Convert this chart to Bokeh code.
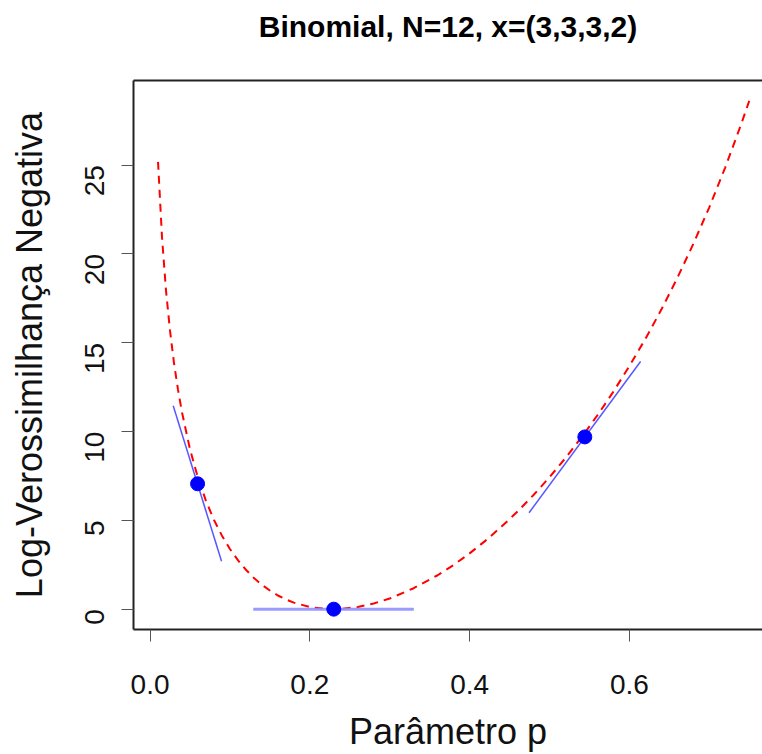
import math
from bokeh.plotting import figure
from bokeh.models import Range1d, LinearAxis, FixedTicker
from bokeh.embed import file_html
from bokeh.resources import INLINE

# Negative log-likelihood curve
p_vals = [0.01, 0.015, 0.02, 0.025, 0.03, 0.035, 0.04, 0.05, 0.06, 0.07, 0.08,
          0.09, 0.10, 0.11, 0.12, 0.13, 0.14, 0.15, 0.16, 0.17, 0.18, 0.20,
          0.22, 0.23, 0.24, 0.26, 0.28, 0.30, 0.33, 0.36, 0.38, 0.40, 0.42,
          0.44, 0.46, 0.48, 0.50, 0.52, 0.54, 0.56, 0.58, 0.60, 0.62, 0.64,
          0.66, 0.68, 0.70, 0.72, 0.74, 0.75]
nll_vals = [25.19, 20.92, 17.94, 15.68, 13.86, 12.36, 11.08, 9.01, 7.40, 6.10, 5.03,
            4.14, 3.39, 2.76, 2.22, 1.76, 1.37, 1.05, 0.77, 0.55, 0.37, 0.12,
            0.01, 0.00, 0.02, 0.12, 0.32, 0.60, 1.18, 1.91, 2.49, 3.14, 3.86,
            4.65, 5.50, 6.43, 7.43, 8.51, 9.67, 10.92, 12.25, 13.69, 15.22, 16.87,
            18.65, 20.57, 22.63, 24.88, 27.32, 28.62]

# Highlighted points
pt_p = [0.0595, 0.230, 0.5442]
pt_nll = [7.06, 0.0, 9.70]

# Tangent segments (start/end)
tan_p0 = [0.0290, 0.4744]
tan_y0 = [11.46, 5.43]
tan_p1 = [0.0895, 0.6140]
tan_y1 = [2.70, 13.95]
flat_p = [0.1292, 0.3302]
flat_y = [0.0, 0.0]

x_ticks = [0.0, 0.2, 0.4, 0.6]
x_tick_labels = ["0.0", "0.2", "0.4", "0.6"]
y_ticks = [0, 5, 10, 15, 20, 25]

TITLE = "Binomial, N=12, x=(3,3,3,2)"
FONT = "Liberation Sans"

p = figure(width=762, height=754, output_backend="svg", toolbar_location=None,
           x_range=Range1d(-0.0207, 0.7666), y_range=Range1d(-1.145, 29.77),
           min_border_left=133, min_border_right=0, min_border_top=80,
           min_border_bottom=124, x_axis_location=None, y_axis_location=None)
p.outline_line_color = None
p.grid.visible = False
p.background_fill_color = "white"
p.border_fill_color = "white"

def style_axis(ax):
    ax.axis_line_color = "#222222"
    ax.axis_line_width = 2
    ax.major_tick_line_color = "#555555"
    ax.major_tick_line_width = 1
    ax.major_tick_out = 12
    ax.major_tick_in = 0
    ax.minor_tick_line_color = None
    ax.major_label_text_font = FONT
    ax.major_label_text_font_size = "28px"
    ax.major_label_text_color = "#111111"
    ax.axis_label_text_font = FONT
    ax.axis_label_text_font_size = "36px"
    ax.axis_label_text_font_style = "normal"
    ax.axis_label_text_color = "#111111"

xax = LinearAxis(ticker=FixedTicker(ticks=x_ticks), axis_label="Parâmetro p")
style_axis(xax)
xax.major_label_overrides = {t: s for t, s in zip(x_ticks, x_tick_labels)}
xax.major_label_standoff = 33
xax.axis_label_standoff = 14
p.add_layout(xax, "below")

yax = LinearAxis(ticker=FixedTicker(ticks=y_ticks), axis_label="Log-Verossimilhança Negativa")
style_axis(yax)
yax.major_label_orientation = math.pi / 2
yax.major_label_standoff = 27
yax.axis_label_standoff = 23
p.add_layout(yax, "left")

# Top border of the box, carrying the title as its label
top = LinearAxis(ticker=FixedTicker(ticks=[]), axis_label=TITLE)
top.axis_line_color = "#222222"
top.axis_line_width = 2
top.major_tick_line_color = None
top.minor_tick_line_color = None
top.major_tick_out = 0
top.major_label_text_font_size = "0px"
top.major_label_standoff = 0
top.axis_label_text_font = FONT
top.axis_label_text_font_size = "30px"
top.axis_label_text_font_style = "bold"
top.axis_label_text_color = "black"
top.axis_label_standoff = 38
p.add_layout(top, "above")

p.line(p_vals, nll_vals, line_color="red", line_width=2, line_dash="8 6")

p.line(flat_p, flat_y, line_color="#8f8fff", line_width=3, line_alpha=0.9)
p.segment(x0=tan_p0, y0=tan_y0, x1=tan_p1, y1=tan_y1,
          line_color="#3a3aff", line_width=1.5, line_alpha=0.85)

p.scatter(pt_p, pt_nll, size=14, fill_color="blue", line_color="blue")

open("out.html", "w").write(file_html(p, INLINE))
